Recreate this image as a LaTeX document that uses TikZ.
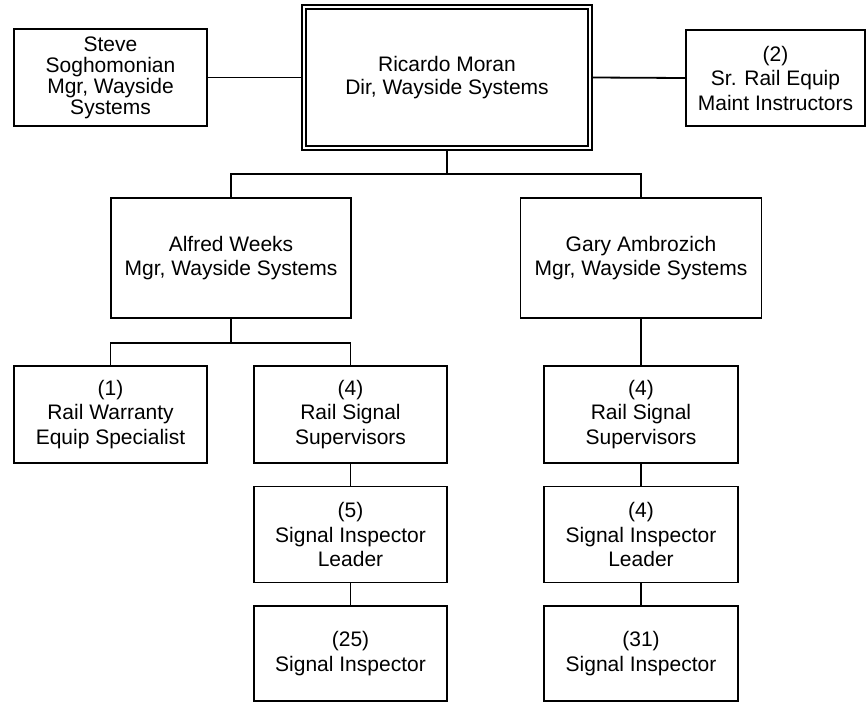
\documentclass[tikz,border=0pt]{standalone}
\usepackage{fontspec}
\setmainfont{Liberation Sans}
\begin{document}
\begin{tikzpicture}[x=1pt,y=-1pt,
  box/.style={draw, line width=1.8pt, inner sep=0pt, align=center,
    font=\fontsize{21}{24.5}\selectfont},
  smallbox/.style={box, minimum width=193pt, minimum height=96pt},
  tight/.style={font=\fontsize{21}{21}\selectfont},
  conn/.style={line width=1.8pt}]
\useasboundingbox (0,0) rectangle (867,702);

\node[box, tight, minimum width=193pt, minimum height=97pt] (steve) at (110.5,77.5)
  {Steve\\Soghomonian\\Mgr, Wayside\\Systems};
\node[box, font=\fontsize{21}{23}\selectfont, minimum width=290pt, minimum height=145pt] (ric) at (447,77.5)
  {Ricardo Moran\\Dir, Wayside Systems};
\draw[line width=1.8pt] ([shift={(5,5)}]ric.north west) rectangle ([shift={(-5,-5)}]ric.south east);
\node[box, minimum width=179pt, minimum height=96pt] (sr) at (775.5,78)
  {(2)\\Sr. Rail Equip\\Maint Instructors};

\node[box, minimum width=240pt, minimum height=120pt] (alf) at (231,258)
  {Alfred Weeks\\Mgr, Wayside Systems};
\node[box, minimum width=241pt, minimum height=120pt] (gary) at (641,258)
  {Gary Ambrozich\\Mgr, Wayside Systems};

\node[smallbox, minimum height=97pt] (warr) at (110.5,414.5)
  {(1)\\Rail Warranty\\Equip Specialist};
\node[smallbox, minimum height=97pt] (sup1) at (350.5,414.5)
  {(4)\\Rail Signal\\Supervisors};
\node[smallbox] (lead1) at (350.5,534.5)
  {(5)\\Signal Inspector\\Leader};
\node[smallbox, minimum height=95pt] (insp1) at (350.5,653.5)
  {(25)\\Signal Inspector};

\node[smallbox, minimum width=194pt, minimum height=97pt] (sup2) at (641,414.5)
  {(4)\\Rail Signal\\Supervisors};
\node[smallbox, minimum width=194pt] (lead2) at (641,534.5)
  {(4)\\Signal Inspector\\Leader};
\node[smallbox, minimum width=194pt, minimum height=95pt] (insp2) at (641,653.5)
  {(31)\\Signal Inspector};

\draw[conn] (steve.east) -- (ric.west);
\draw[conn] (ric.east) -- (sr.west);
\draw[conn] (ric.south) -- ++(0,23) coordinate (j1);
\draw[conn] (alf.north) |- (j1) -| (gary.north);
\draw[conn] (alf.south) -- ++(0,24) coordinate (j2);
\draw[conn] (warr.north) |- (j2) -| (sup1.north);
\draw[conn] (sup1.south) -- (lead1.north);
\draw[conn] (lead1.south) -- (insp1.north);
\draw[conn] (gary.south) -- (sup2.north);
\draw[conn] (sup2.south) -- (lead2.north);
\draw[conn] (lead2.south) -- (insp2.north);
\end{tikzpicture}
\end{document}
